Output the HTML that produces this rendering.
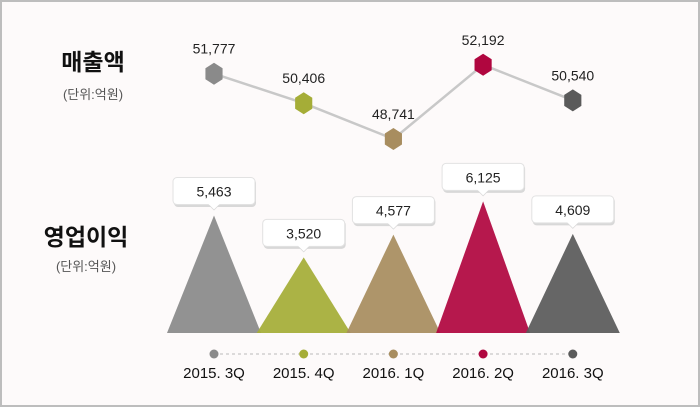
<!DOCTYPE html>
<html><head><meta charset="utf-8">
<style>
html,body{margin:0;padding:0;}
body{width:700px;height:407px;overflow:hidden;background:#fff;font-family:"Liberation Sans","Noto Sans CJK KR",sans-serif;}
#frame{position:absolute;left:0;top:0;width:696px;height:403px;border:2px solid #bdbdbd;background:#fdfafa;}
svg{position:absolute;left:0;top:0;}
</style></head>
<body>
<div id="frame"></div>
<svg id="chart" width="700" height="407">
  <text x="93" y="70" text-anchor="middle" font-size="23" font-weight="bold" fill="#111" font-family="Liberation Sans, Noto Sans CJK KR, sans-serif">매출액</text>
  <text x="93" y="99" text-anchor="middle" font-size="13" fill="#555" font-family="Liberation Sans, Noto Sans CJK KR, sans-serif">(단위:억원)</text>
  <text x="86" y="245" text-anchor="middle" font-size="23" font-weight="bold" fill="#111" font-family="Liberation Sans, Noto Sans CJK KR, sans-serif">영업이익</text>
  <text x="86" y="271" text-anchor="middle" font-size="13" fill="#555" font-family="Liberation Sans, Noto Sans CJK KR, sans-serif">(단위:억원)</text>
  <g id="tri"></g><g id="line"></g><g id="axis"></g>
</svg>
<script>
const categories = ["2015. 3Q","2015. 4Q","2016. 1Q","2016. 2Q","2016. 3Q"];
const revenue = [51777, 50406, 48741, 52192, 50540];
const opIncome = [5463, 3520, 4577, 6125, 4609];
const revenueLabels = ["51,777","50,406","48,741","52,192","50,540"];
const opLabels = ["5,463","3,520","4,577","6,125","4,609"];
const colors = ["#8a8a8a","#a5ad37","#a88d5f","#b0063f","#5a5a5a"];

const NS="http://www.w3.org/2000/svg";
function mk(tag, attrs, parent){const e=document.createElementNS(NS,tag);for(const k in attrs)e.setAttribute(k,attrs[k]);parent.appendChild(e);return e;}
const xPos = i => 214 + i*89.7;
const yRev = v => 139 - (v-48741)*0.0215;
const baseY = 333;
const hOp = v => v*0.0215;
const halfW = 47;

const tri=document.getElementById('tri'), line=document.getElementById('line'), axis=document.getElementById('axis');

// triangles
opIncome.forEach((v,i)=>{
  const x=xPos(i), top=baseY-hOp(v);
  const p=mk('polygon',{points:`${x-halfW},${baseY} ${x+halfW},${baseY} ${x},${top}`,fill:colors[i],'fill-opacity':0.93},tri);
  
  
  const g=mk('g',{},tri);
  
  
  const by=top-38;
  mk('rect',{x:x-40,y:by+1.5,width:82,height:28,rx:4,fill:'#d8d8d8'},g);
  mk('polygon',{points:`${x-6},${by+27} ${x+6},${by+27} ${x},${by+33}`,fill:'#d8d8d8'},g);
  mk('rect',{x:x-41,y:by,width:82,height:27,rx:4,fill:'#fff',stroke:'#e2e2e2'},g);
  mk('polygon',{points:`${x-6},${by+26} ${x+6},${by+26} ${x},${by+32}`,fill:'#fff'},g);
  const t=mk('text',{x:x,y:by+19,'text-anchor':'middle','font-size':14,fill:'#222'},g);
  t.textContent=opLabels[i];
});

// revenue line
const pts=revenue.map((v,i)=>`${xPos(i)},${yRev(v)}`).join(' ');
const pl=mk('polyline',{points:pts,fill:'none',stroke:'#c8c8c8','stroke-width':2.5},line);


revenue.forEach((v,i)=>{
  const x=xPos(i), y=yRev(v), r=11;
  const hp=[];for(let k=0;k<6;k++){const a=Math.PI/3*k-Math.PI/2;hp.push(`${x+r*Math.cos(a)*0.9},${y+r*Math.sin(a)}`);}
  const h=mk('polygon',{points:hp.join(' '),fill:colors[i]},line);
  
  
  const t=mk('text',{x:x,y:y-20,'text-anchor':'middle','font-size':14,fill:'#222'},line);
  
  
  t.textContent=revenueLabels[i];
});

// axis
const dl=mk('line',{x1:xPos(0),y1:354,x2:xPos(4),y2:354,stroke:'#bbb','stroke-dasharray':'3,3','stroke-width':1},axis);


categories.forEach((c,i)=>{
  const x=xPos(i);
  const d=mk('circle',{cx:x,cy:354,r:4.5,fill:colors[i]},axis);
  
  
  const t=mk('text',{x:x,y:378,'text-anchor':'middle','font-size':15,fill:'#111'},axis);
  
  
  t.textContent=c;
});
</script>
</body></html>
